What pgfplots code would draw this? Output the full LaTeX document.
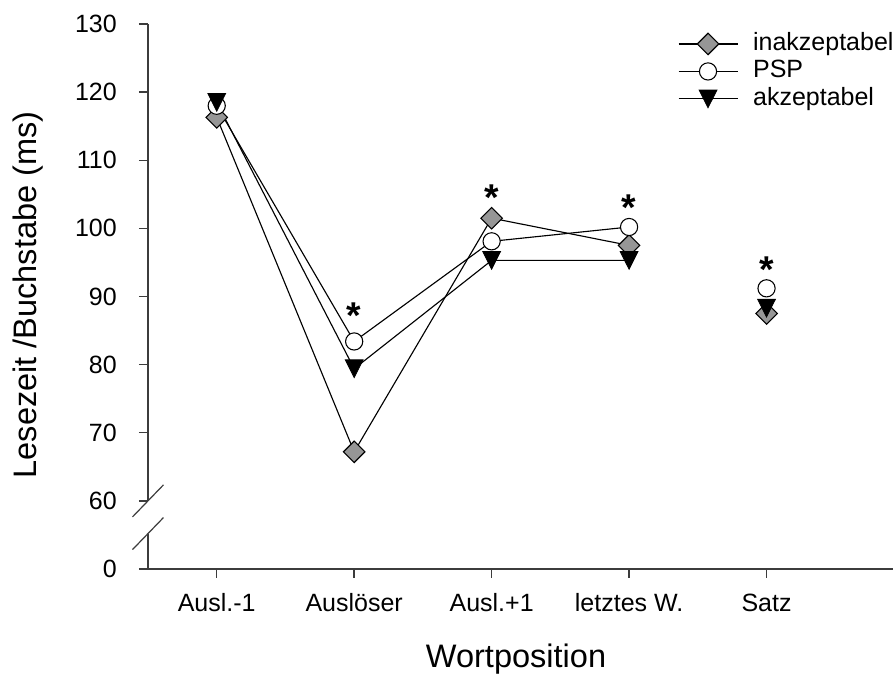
\documentclass[border=0pt]{standalone}
\usepackage{fontspec}
\setmainfont{Liberation Sans}
\usepackage{pgfplots}
\usepackage{pgfplotstable}
\pgfplotsset{compat=1.18}
\definecolor{markgray}{RGB}{150,150,150}
\definecolor{axisgray}{RGB}{60,60,60}

% Mean reading time per letter (ms) at each word position
\pgfplotstableread{
pos inak  psp   akz
0   116.3 118.0 118.5
1   67.2  83.4  79.4
2   101.5 98.1  95.3
3   97.5  100.2 95.3
4   87.5  91.2  88.3
}\readtimes

\begin{document}
\begin{tikzpicture}
\begin{axis}[
  at={(0,0)}, anchor=south west,
  scale only axis, width=558.75pt, height=408.75pt,
  xmin=-0.5, xmax=4.92, ymin=0, ymax=80,
  clip=false,
  axis x line*=bottom, axis y line*=left,
  y axis line style={draw=none},
  x axis line style={line width=1.1pt, draw=axisgray, -},
  tick align=outside, major tick length=6.75pt,
  every tick/.style={line width=1.1pt, axisgray},
  xtick={0,...,4},
  xticklabels={Ausl.-1,Auslöser,Ausl.+1,letztes W.,Satz},
  % the y axis is broken between 0 and 60: plotted value = reading time - 50
  ytick={0,10,...,80},
  yticklabels={0,60,70,80,90,100,110,120,130},
  ticklabel style={font=\fontsize{18.75}{22}\selectfont},
  xticklabel style={anchor=base, yshift=-25.5pt, inner sep=0pt},
  yticklabel style={anchor=east, xshift=-16.5pt, inner sep=0pt},
  xlabel={Wortposition},
  xlabel style={at={(axis description cs:0.494,-0.165)}, anchor=center,
    font=\fontsize{24.4}{28}\selectfont},
  ylabel={Lesezeit /Buchstabe (ms)},
  ylabel style={at={(axis description cs:-0.161,0.503)}, anchor=center,
    font=\fontsize{24.4}{28}\selectfont},
  legend image code/.code={%
    \draw[mark repeat=2, mark phase=2, #1]
      plot coordinates {(0pt,0pt) (22.1pt,0pt) (44.25pt,0pt)};},
  legend style={at={(axis description cs:0.7114,0.985)}, anchor=north west,
    draw=none, fill=none, inner sep=0pt, outer sep=0pt,
    row sep=2.9pt, column sep=11.25pt,
    font=\fontsize{18.75}{22}\selectfont,
    cells={anchor=west},
    nodes={inner sep=0pt, text height=13.7pt, text depth=4pt}},
  inakstyle/.style={black, line width=0.85pt, mark=square*,
    mark size=5.7pt,
    mark options={rotate=45, fill=markgray, draw=black, line width=0.8pt, solid}},
  pspstyle/.style={black, line width=0.85pt, mark=*,
    mark size=6.45pt,
    mark options={fill=white, draw=black, line width=0.8pt, solid}},
  akzstyle/.style={black, line width=0.85pt, mark=triangle*,
    mark size=7.7pt,
    mark options={yshift=2.2pt, rotate=180, yscale=1.15, fill=black,
      draw=black, line width=0.6pt, solid}},
]
% connected word positions
\addplot[inakstyle, skip coords between index={4}{5}]
  table[x=pos, y expr=\thisrow{inak}-50] {\readtimes};
\addlegendentry{inakzeptabel}
\addplot[pspstyle, skip coords between index={4}{5}]
  table[x=pos, y expr=\thisrow{psp}-50] {\readtimes};
\addlegendentry{PSP}
\addplot[akzstyle, skip coords between index={4}{5}]
  table[x=pos, y expr=\thisrow{akz}-50] {\readtimes};
\addlegendentry{akzeptabel}
% whole sentence, not connected
\addplot[inakstyle, only marks, forget plot, skip coords between index={0}{4}]
  table[x=pos, y expr=\thisrow{inak}-50] {\readtimes};
\addplot[pspstyle, only marks, forget plot, skip coords between index={0}{4}]
  table[x=pos, y expr=\thisrow{psp}-50] {\readtimes};
\addplot[akzstyle, only marks, forget plot, skip coords between index={0}{4}]
  table[x=pos, y expr=\thisrow{akz}-50] {\readtimes};

% broken y axis
\draw[line width=1.1pt, axisgray] (axis cs:-0.5,80) -- (axis cs:-0.5,10);
\draw[line width=1.1pt, axisgray] (axis cs:-0.5,5.2) -- (axis cs:-0.5,0);
\draw[line width=0.9pt, axisgray] (axis cs:-0.5,10) ++(-11.6pt,-12pt) -- ++(23.2pt,24pt);
\draw[line width=0.9pt, axisgray] (axis cs:-0.5,5.2) ++(-11.6pt,-12pt) -- ++(23.2pt,24pt);

% significance marks
\begin{scope}[every node/.style={anchor=north, inner sep=0pt,
    font=\fontsize{28}{30}\selectfont\bfseries}]
  \node at (axis cs:1,39.05) {*};
  \node at (axis cs:2,56.5) {*};
  \node at (axis cs:3,54.9) {*};
  \node at (axis cs:4,45.8) {*};
\end{scope}
\end{axis}
\pgfresetboundingbox
\path[use as bounding box] (-111pt,-81pt) rectangle (558.75pt,426.75pt);
\end{tikzpicture}
\end{document}
